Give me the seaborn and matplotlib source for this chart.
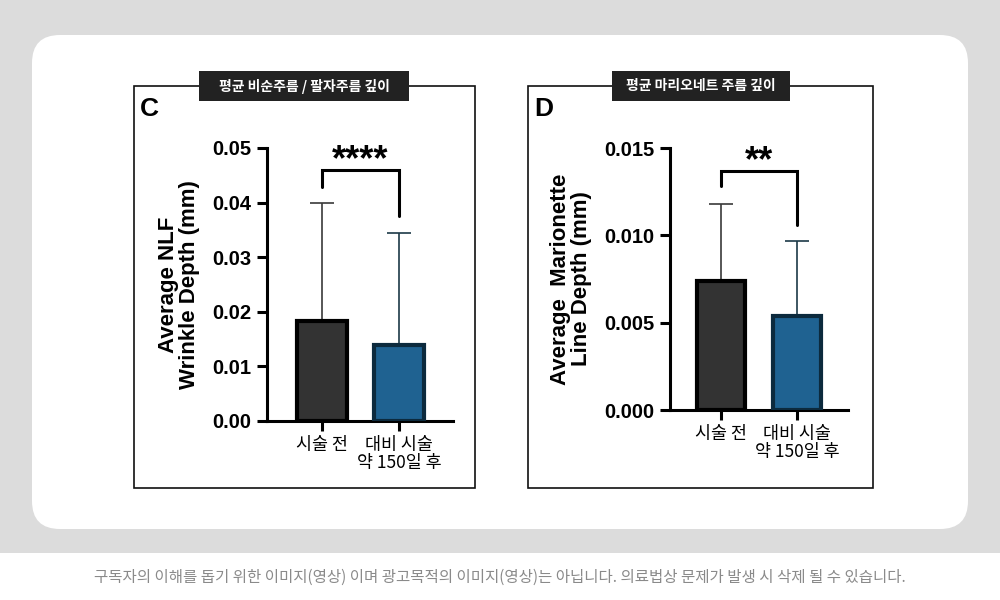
import numpy as np
import pandas as pd
import seaborn as sns
import matplotlib.pyplot as plt
from matplotlib.patches import FancyBboxPatch, Rectangle

# data
groups = ["시술 전", "대비 시술\n약 150일 후"]
nlf_mean = [0.0184, 0.0140]
nlf_sd = [0.0216, 0.0204]
mar_mean = [0.0074, 0.0054]
mar_sd = [0.0044, 0.0043]
nlf_ticks = [0.00, 0.01, 0.02, 0.03, 0.04, 0.05]
mar_ticks = [0.000, 0.005, 0.010, 0.015]

bar_colors = ["#333333", "#1f6291"]
edge_colors = ["#000000", "#0c2a3d"]
err_colors = ["#3a3a3a", "#1c3a48"]

sns.set_theme(style="white")
plt.rcParams['font.family'] = ['Liberation Sans', 'Noto Sans CJK KR', 'DejaVu Sans']
for k in ["text.color", "axes.labelcolor", "xtick.color", "ytick.color"]:
    plt.rcParams[k] = "black"
KR = ['Noto Sans CJK KR', 'DejaVu Sans']

fig = plt.figure(figsize=(10, 6), dpi=100)
fig.patch.set_facecolor("white")


def px(x, y, w, h):
    # pixel box (top-left origin) -> figure fraction
    return x / 1000, 1 - (y + h) / 600, w / 1000, h / 600


# page background
x0, y0, w0, h0 = px(0, 0, 1000, 553)
fig.patches.append(Rectangle((x0, y0), w0, h0, transform=fig.transFigure,
                             facecolor="#dcdcdc", edgecolor="none", zorder=0))
x0, y0, w0, h0 = px(32, 35, 936, 494)
fig.patches.append(FancyBboxPatch((x0, y0), w0, h0, transform=fig.transFigure,
                                  boxstyle="round,pad=0,rounding_size=0.028",
                                  mutation_aspect=1.667,
                                  facecolor="white", edgecolor="none", zorder=0))

fig.text(0.5, 1 - 577 / 600,
         "구독자의 이해를 돕기 위한 이미지(영상) 이며 광고목적의 이미지(영상)는 아닙니다. 의료법상 문제가 발생 시 삭제 될 수 있습니다.",
         ha="center", va="center", fontsize=11.2, color="#8a8a8a", family=KR)


def panel(box, title_box, title, letter, axes_px, means, sds, ticks, ylabel,
          stars, bracket, xlim, width, fmt):
    bx, by, bw, bh = px(*box)
    fig.patches.append(Rectangle((bx, by), bw, bh, transform=fig.transFigure,
                                 facecolor="white", edgecolor="#111111",
                                 linewidth=1.2, zorder=1))
    tx, ty, tw, th = px(*title_box)
    fig.patches.append(Rectangle((tx, ty), tw, th, transform=fig.transFigure,
                                 facecolor="#222222", edgecolor="none", zorder=2))
    fig.text(tx + tw / 2, ty + th / 2, title, ha="center", va="center",
             color="white", fontsize=10, fontweight="bold", family=KR, zorder=3)
    fig.text(bx + 0.006, by + bh - 0.038, letter, fontsize=19,
             fontweight="bold", va="center", zorder=3)

    ax = fig.add_axes(px(*axes_px))
    ax.set_zorder(4)
    ax.patch.set_alpha(0)
    df = pd.DataFrame({"group": groups, "value": means})
    sns.barplot(data=df, x="group", y="value", hue="group", palette=bar_colors,
                saturation=1, width=width, legend=False, ax=ax, zorder=3)
    for p, ec in zip(ax.patches, edge_colors):
        p.set_edgecolor(ec)
        p.set_linewidth(3)
    for i in range(len(groups)):
        ax.errorbar(i, means[i], yerr=[[0], [sds[i]]], fmt="none",
                    ecolor=err_colors[i], elinewidth=1.2, capsize=8.5,
                    capthick=1.2, zorder=2)

    # significance bracket
    (xl, yl), (xr, yr), ytop = bracket
    span = ticks[-1] - ticks[0]
    ax.plot([xl, xl, xr, xr], [yl, ytop, ytop, yr], color="black", lw=2.2,
            clip_on=False, solid_joinstyle="miter")
    ax.text((xl + xr) / 2, ytop - span * 0.003, stars, ha="center",
            va="baseline", fontsize=26, fontweight="bold", clip_on=False)

    ax.set_xlim(*xlim)
    ax.set_ylim(ticks[0], ticks[-1])
    ax.set_yticks(ticks)
    ax.set_yticklabels([fmt.format(t) for t in ticks], fontsize=14.5,
                       fontweight="bold")
    ax.set_xticks(range(len(groups)))
    ax.set_xticklabels(groups, fontsize=12.5, family=KR, linespacing=1.0)
    ax.set_xlabel("")
    ax.set_ylabel(ylabel, fontsize=16, fontweight="bold", labelpad=9,
                  linespacing=1.0)
    for s in ["top", "right"]:
        ax.spines[s].set_visible(False)
    for s in ["left", "bottom"]:
        ax.spines[s].set_linewidth(2.2)
        ax.spines[s].set_color("black")
    ax.tick_params(axis="both", which="both", direction="out", length=7,
                   width=2.2, color="black", left=True, bottom=True,
                   pad=4)
    return ax


panel((134, 86, 341, 402), (199, 71, 210, 30), "평균 비순주름 / 팔자주름 깊이", "C",
      (267, 148, 186, 273), nlf_mean, nlf_sd, nlf_ticks,
      "Average NLF\nWrinkle Depth (mm)", "****",
      ((0, 0.0428), (1, 0.0375), 0.0460), (-0.714, 1.70), 0.65, "{:.2f}")

panel((528, 86, 345, 402), (612, 71, 178, 30), "평균 마리오네트 주름 깊이", "D",
      (670, 148, 178, 262), mar_mean, mar_sd, mar_ticks,
      "Average  Marionette\nLine Depth (mm)", "**",
      ((0, 0.0128), (1, 0.0106), 0.0137), (-0.67, 1.67), 0.63, "{:.3f}")

fig.savefig("out.png", dpi=100)
